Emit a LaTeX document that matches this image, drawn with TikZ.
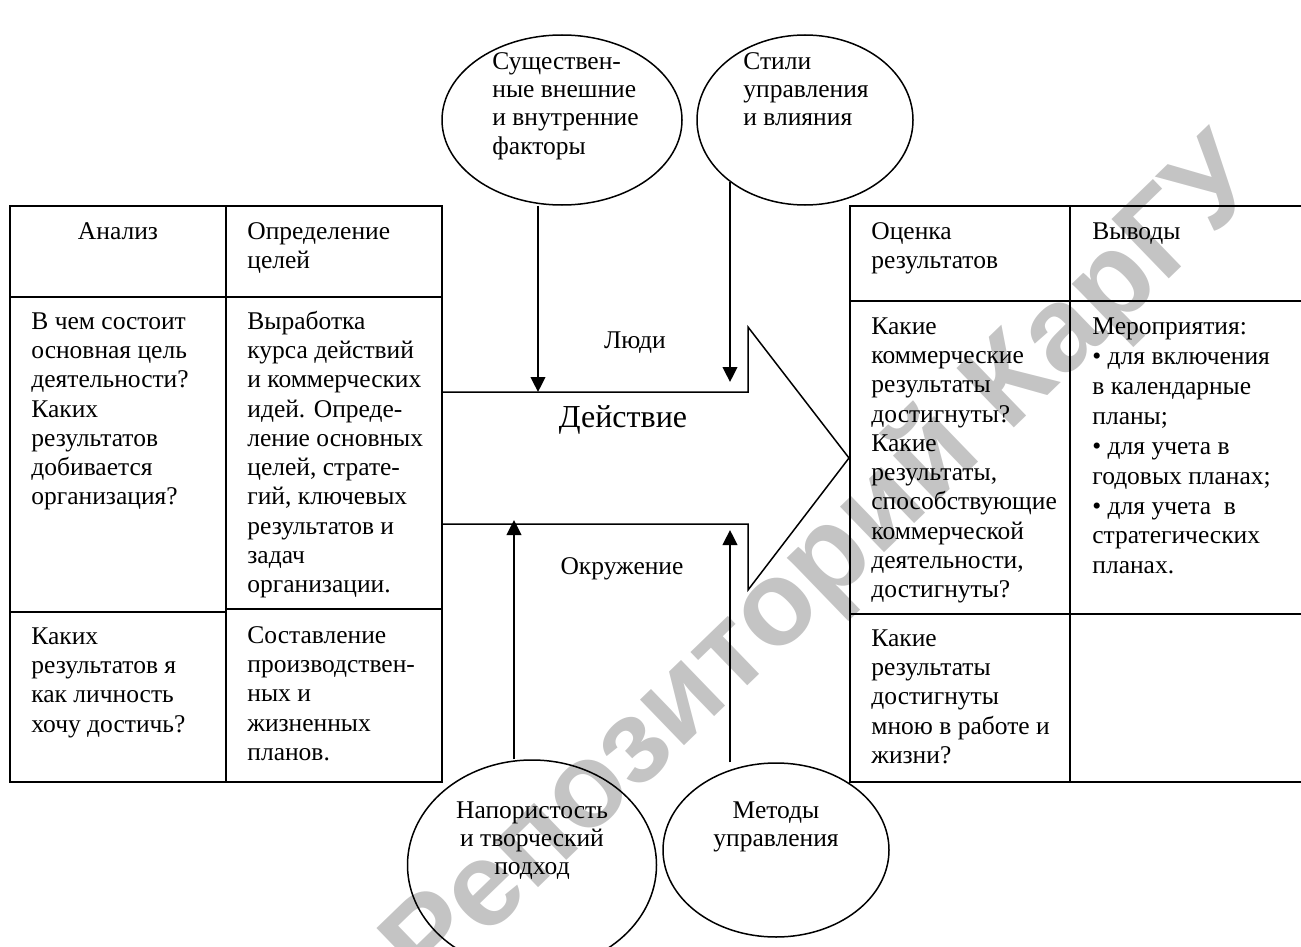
\documentclass[tikz,border=0pt]{standalone}
\usepackage{fontspec}
\setmainfont{Liberation Serif}
\newfontfamily\wmfont{Liberation Sans}
\usetikzlibrary{shapes.geometric,arrows.meta}
\newcommand\cellfont{\fontsize{12.75pt}{14.63pt}\selectfont}
\newcommand\listfont{\fontsize{12.75pt}{14.94pt}\selectfont}
\newcommand\ovalfont{\fontsize{12.75pt}{14.15pt}\selectfont}
\newcommand\bigfont{\fontsize{16pt}{19pt}\selectfont}
\begin{document}
\begin{tikzpicture}[x=0.5pt,y=-0.5pt,
  grid/.style={line width=1pt},
  oval/.style={draw, ellipse, line width=0.75pt, inner sep=0pt},
  flow/.style={line width=1pt, -{Triangle[length=7.5pt,width=7.3pt]}},
  body/.style={font=\cellfont, align=left, anchor=north west, inner sep=0pt},
  ovaltext/.style={font=\ovalfont, inner sep=0pt},
  label/.style={font=\cellfont, anchor=base, inner sep=0pt}]
\useasboundingbox (0,0) rectangle (1301,947);
\clip (0,0) rectangle (1301,947);

% repository stamp behind everything
\node[font=\wmfont\bfseries\fontsize{60pt}{60pt}\selectfont, text=black!23, rotate=44, inner sep=0pt]
  (stamp) at (825,566) {Репозиторий КарГУ};

% left table: analysis and goals
\draw[grid] (10,206) rectangle (442,782);
\draw[grid] (226,206) -- (226,782);
\draw[grid] (10,297) -- (442,297);
\draw[grid] (10,612) -- (226,612);
\draw[grid] (226,609) -- (442,609);

% right table: evaluation and conclusions
\draw[grid] (1320,206) -- (850,206) -- (850,782) -- (1320,782);
\draw[grid] (1070,206) -- (1070,782);
\draw[grid] (850,301) -- (1320,301);
\draw[grid] (850,614) -- (1320,614);

% big action arrow
\draw[line width=0.75pt, line join=miter]
  (442,392) -- (748,392) -- (748,327) -- (849,458) -- (748,590) -- (748,524) -- (442,524);

% influencing factors
\node[oval, minimum width=120pt, minimum height=85pt] (E1) at (562,120) {};
\node[oval, minimum width=108pt, minimum height=85pt] (E2) at (805,120) {};
\node[oval, minimum width=124.5pt, minimum height=105pt] (E3) at (532,865) {};
\node[oval, minimum width=113pt, minimum height=87pt] (E4) at (776,850) {};

\node[ovaltext, align=left, anchor=north west] (t1) at (492,49)
  {\strut Существен-\\ные внешние\\и внутренние\\факторы};
\node[ovaltext, align=left, anchor=north west] (t2) at (743,49)
  {\strut Стили\\управления\\и влияния};
\node[ovaltext, align=center, anchor=north] (t3) at (532,798)
  {\strut Напористость\\и творческий\\подход};
\node[ovaltext, align=center, anchor=north] (t4) at (776,798)
  {\strut Методы\\управления};

% connectors into the action arrow
\coordinate (p1) at (538,392);
\coordinate (q2) at (730,182);
\coordinate (p2) at (730,382);
\coordinate (p3) at (514,520);
\coordinate (p4) at (730,530);
\draw[flow] (E1.south -| p1) -- (p1);
\draw[flow] (q2) -- (p2);
\draw[flow] (E3.north -| p3) -- (p3);
\draw[flow] (E4.north -| p4) -- (p4);

% arrow labels
\node[label] (people) at (635,348) {Люди};
\node[font=\bigfont, anchor=base, inner sep=0pt] (action) at (623,427) {Действие};
\node[label] (env) at (622,574) {Окружение};

% left table texts
\node[font=\cellfont, align=center, anchor=north, inner sep=0pt] (h1) at (118,218.4) {\strut Анализ};
\node[body] (h2) at (247,218.4) {\strut Определение\\целей};
\node[body] (c11) at (31,308.4)
  {\strut В чем состоит\\основная цель\\деятельности?\\Каких\\результатов\\добивается\\организация?};
\node[body] (c12) at (247,308.4)
  {\strut Выработка\\курса действий\\и коммерческих\\идей. Опреде-\\ление основных\\целей, страте-\\гий, ключевых\\результатов и\\задач\\организации.};
\node[body] (c21) at (31,623.4)
  {\strut Каких\\результатов я\\как личность\\хочу достичь?};
\node[body] (c22) at (247,622.4)
  {\strut Составление\\производствен-\\ных и\\жизненных\\планов.};

% right table texts
\node[body] (h3) at (871,218.4) {\strut Оценка\\результатов};
\node[body] (h4) at (1092,218.4) {\strut Выводы};
\node[body] (c13) at (871,313.4)
  {\strut Какие\\коммерческие\\результаты\\достигнуты?\\Какие\\результаты,\\способствующие\\коммерческой\\деятельности,\\достигнуты?};
\node[body, font=\listfont] (c14) at (1092,313.4)
  {\strut Мероприятия:\\• для включения\\в календарные\\планы;\\• для учета в\\годовых планах;\\• для учета \ в\\стратегических\\планах.};
\node[body] (c23) at (871,625.4)
  {\strut Какие\\результаты\\достигнуты\\мною в работе и\\жизни?};
\end{tikzpicture}
\end{document}
